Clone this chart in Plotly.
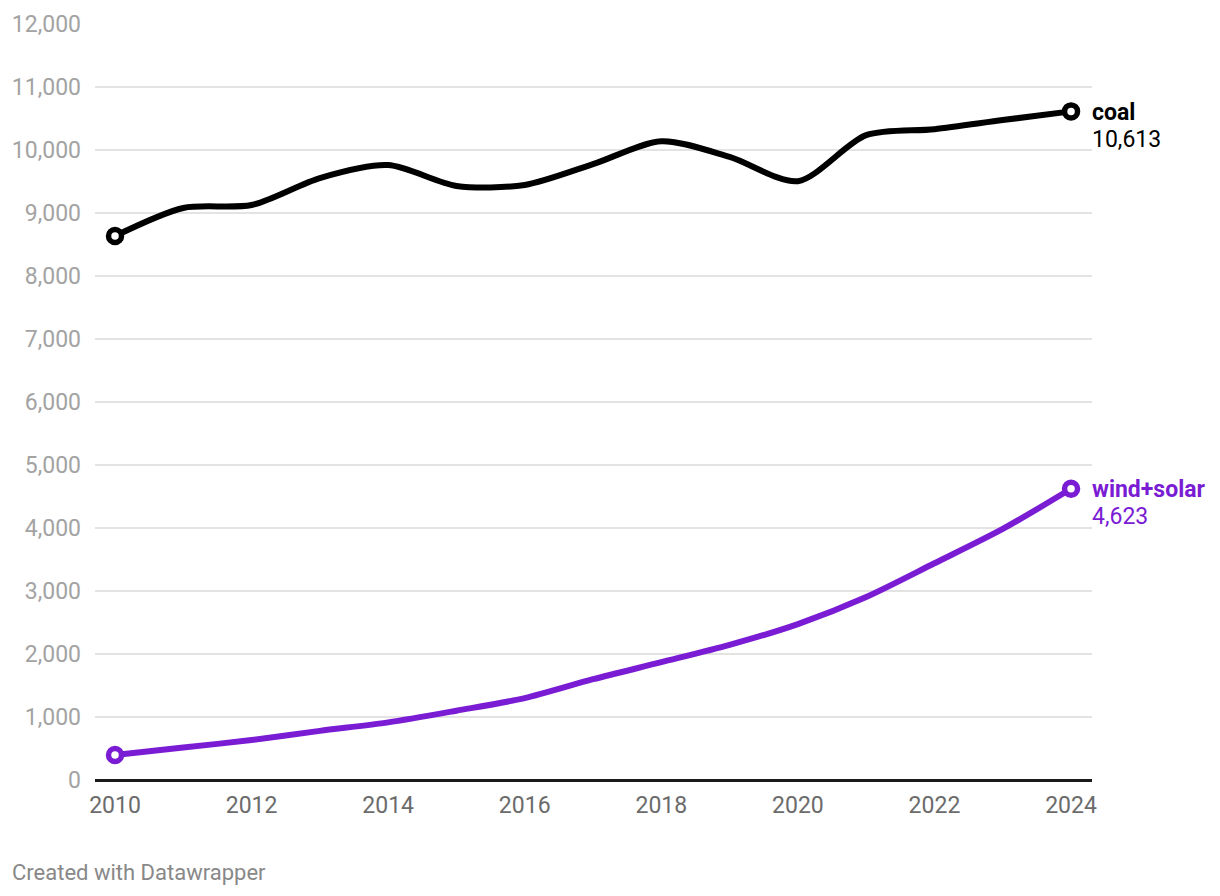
import plotly.graph_objects as go

years = list(range(2010, 2025))
coal = [8635, 9080, 9127, 9555, 9760, 9430, 9445, 9775, 10140, 9890, 9505, 10235, 10330, 10475, 10613]
wind_solar = [397, 515, 635, 780, 915, 1100, 1300, 1600, 1870, 2145, 2475, 2905, 3440, 3985, 4623]
series_names = ["coal", "wind+solar"]
series_colors = ["#000000", "#7a1cd4"]
y_ticks = list(range(0, 12001, 1000))
x_ticks = list(range(2010, 2025, 2))

W, H = 1204, 880
L, R, T, B = 87, 120, 16, 108
plot_w = W - L - R
plot_h = H - T - B

fig = go.Figure()
for name, vals, col in zip(series_names, [coal, wind_solar], series_colors):
    fig.add_trace(go.Scatter(
        x=years, y=vals, mode="lines",
        line=dict(color=col, width=6, shape="spline", smoothing=0.8),
        hoverinfo="skip", showlegend=False, cliponaxis=False))
    fig.add_trace(go.Scatter(
        x=[years[0], years[-1]], y=[vals[0], vals[-1]], mode="markers",
        marker=dict(size=13, color="white", line=dict(color=col, width=5.5)),
        hoverinfo="skip", showlegend=False, cliponaxis=False))
    fig.add_annotation(
        x=years[-1], y=vals[-1], xref="x", yref="y",
        text=f"<b>{name}</b>",
        showarrow=False, xanchor="left", yanchor="middle", align="left",
        xshift=19, yshift=-1,
        font=dict(family="Roboto", size=23, color=col))
    fig.add_annotation(
        x=years[-1], y=vals[-1], xref="x", yref="y",
        text=f"{vals[-1]:,}",
        showarrow=False, xanchor="left", yanchor="middle", align="left",
        xshift=19, yshift=-28,
        font=dict(family="Roboto", size=23, color=col))

fig.add_annotation(
    xref="x domain", yref="y domain",
    x=-85 / plot_w, y=-(872 - 780) / plot_h,
    text="Created with Datawrapper",
    showarrow=False, xanchor="left", yanchor="middle",
    font=dict(family="Roboto", size=22, color="#888888"))

fig.update_layout(
    width=W, height=H,
    margin=dict(l=L, r=R, t=T, b=B, autoexpand=False),
    paper_bgcolor="white", plot_bgcolor="white",
    font=dict(family="Roboto"),
    xaxis=dict(
        automargin=False,
        range=[2009.707, 2024.307], tickvals=x_ticks,
        ticktext=[str(v) for v in x_ticks],
        showgrid=False, zeroline=False, showline=False,
        ticks="", ticklabelstandoff=9,
        tickfont=dict(family="Roboto", size=23, color="#6b6b6b")),
    yaxis=dict(
        automargin=False,
        range=[0, 12000], tickvals=y_ticks,
        ticktext=[f"{v:,}" for v in y_ticks],
        showgrid=True, gridcolor="#e3e3e3", gridwidth=1.5,
        zeroline=True, zerolinecolor="#1a1a1a", zerolinewidth=2.5,
        showline=False, ticks="", ticklabelstandoff=13,
        tickfont=dict(family="Roboto", size=23, color="#a3a3a3")),
)

fig.write_html("out.html")
